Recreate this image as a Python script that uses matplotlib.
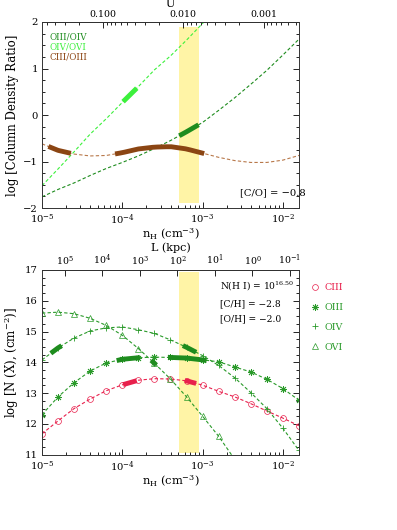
import numpy as np
import matplotlib
matplotlib.use('Agg')
import matplotlib.pyplot as plt
from matplotlib.lines import Line2D
from matplotlib.ticker import (FixedLocator, FormatStrFormatter, NullLocator,
                               NullFormatter, MultipleLocator, FuncFormatter)

plt.rcParams['font.family'] = 'DejaVu Serif'
plt.rcParams['mathtext.fontset'] = 'dejavuserif'

# ---- top panel: log column density ratios vs log n_H
ratio_lognh = [-5.0, -4.8, -4.6, -4.4, -4.2, -4.0, -3.8, -3.6, -3.4, -3.2,
               -3.0, -2.8, -2.6, -2.4, -2.2, -2.0, -1.8, -1.75]
oiii_oiv = [-1.76, -1.60, -1.46, -1.30, -1.15, -1.02, -0.88, -0.72, -0.55, -0.36,
            -0.16, 0.10, 0.37, 0.66, 0.96, 1.29, 1.63, 1.72]
ciii_oiii = [-0.62, -0.76, -0.84, -0.88, -0.87, -0.81, -0.73, -0.69, -0.68, -0.73,
             -0.82, -0.91, -0.98, -1.02, -1.02, -0.97, -0.87, -0.84]
oiv_ovi_lognh = [-5.0, -4.8, -4.6, -4.4, -4.2, -4.0, -3.8, -3.6, -3.4, -3.2, -3.0, -2.8]
oiv_ovi = [-1.52, -1.16, -0.79, -0.41, -0.08, 0.27, 0.61, 0.97, 1.27, 1.61, 1.97, 2.30]

# ranges (log n_H) where the curves are drawn thick
oiii_oiv_thick = [(-3.29, -3.05)]
oiv_ovi_thick = [(-3.99, -3.82)]
ciii_oiii_thick = [(-4.92, -4.64), (-4.09, -2.98)]

# ---- bottom panel: log N(X) vs log n_H
col_lognh = [-5.0, -4.8, -4.6, -4.4, -4.2, -4.0, -3.8, -3.6, -3.4, -3.2,
             -3.0, -2.8, -2.6, -2.4, -2.2, -2.0, -1.8]
n_ciii = [11.68, 12.10, 12.50, 12.81, 13.08, 13.27, 13.42, 13.47, 13.46, 13.40,
          13.26, 13.06, 12.88, 12.66, 12.42, 12.19, 11.94]
n_oiii = [12.30, 12.88, 13.34, 13.72, 13.98, 14.10, 14.15, 14.17, 14.16, 14.14,
          14.08, 14.02, 13.85, 13.69, 13.45, 13.15, 12.77]
n_oiv = [14.08, 14.47, 14.79, 15.02, 15.12, 15.15, 15.06, 14.94, 14.73, 14.49,
         14.22, 13.90, 13.50, 13.02, 12.50, 11.86, 11.14]
ovi_lognh = [-5.0, -4.8, -4.6, -4.4, -4.2, -4.0, -3.8, -3.6, -3.4, -3.2, -3.0, -2.8, -2.6]
n_ovi = [15.60, 15.63, 15.58, 15.43, 15.20, 14.88, 14.45, 13.97, 13.46, 12.88,
         12.25, 11.60, 10.85]

ciii_thick = [(-3.99, -3.82), (-3.22, -3.08)]
oiii_thick = [(-4.07, -3.78), (-3.43, -2.95)]
oiv_thick = [(-4.89, -4.755), (-3.245, -3.08)]
ovi_thick = [(-3.64, -3.577)]

band = (5.1e-4, 9.0e-4)
xlim = (1e-5, 1.6e-2)

green = '#2a9a2a'
dkgreen = '#1e8c1e'
ltgreen = '#3cf03c'
brown = '#8b4513'
red = '#e8204c'
band_color = '#fff4a6'


def thick(ax, lx, ly, ranges, color):
    for a, b in ranges:
        xs = np.linspace(a, b, 20)
        ax.plot(10**xs, np.interp(xs, lx, ly), color=color, lw=3.5,
                solid_capstyle='butt', zorder=4)


def nh_to_u(n):
    n = np.asarray(n, dtype=float)
    with np.errstate(divide='ignore', invalid='ignore'):
        return 10**-5.24 / n


def nh_to_l(n):
    n = np.asarray(n, dtype=float)
    with np.errstate(divide='ignore', invalid='ignore'):
        return 10**(5 - 2.141 * (np.log10(n) + 4.714))


def l_to_nh(l):
    l = np.asarray(l, dtype=float)
    with np.errstate(divide='ignore', invalid='ignore'):
        return 10**((5 - np.log10(l)) / 2.141 - 4.714)


def style(ax):
    ax.set_xscale('log')
    ax.set_xlim(*xlim)
    ax.tick_params(which='both', direction='in', right=True, top=False,
                   labelsize=7.2, width=0.6, pad=3)
    ax.tick_params(which='major', length=4)
    ax.tick_params(which='minor', length=2)
    for s in ax.spines.values():
        s.set_linewidth(0.7)
        s.set_color('#333333')
    ax.set_xlabel(r'n$_{\rm H}$ (cm$^{-3}$)', fontsize=8.2, labelpad=0)


fig = plt.figure(figsize=(3.97, 5.30), dpi=100)
ax1 = fig.add_axes([0.1058, 0.6075, 0.648, 0.351])
ax2 = fig.add_axes([0.1058, 0.1420, 0.648, 0.3486])

# ---------------- top panel
style(ax1)
ax1.set_ylim(-2, 2)
ax1.yaxis.set_major_locator(MultipleLocator(1))
ax1.yaxis.set_minor_locator(MultipleLocator(0.25))
ax1.axvspan(*band, ymin=0.025, ymax=0.975, color=band_color, lw=0, zorder=0)

xr = 10**np.array(ratio_lognh)
ax1.plot(xr, oiii_oiv, color=dkgreen, lw=0.8, ls=(0, (3, 2)))
ax1.plot(10**np.array(oiv_ovi_lognh), oiv_ovi, color=ltgreen, lw=0.8, ls=(0, (3, 2)))
ax1.plot(xr, ciii_oiii, color='#b8784a', lw=0.8, ls=(0, (3, 2)))
thick(ax1, ratio_lognh, oiii_oiv, oiii_oiv_thick, dkgreen)
thick(ax1, oiv_ovi_lognh, oiv_ovi, oiv_ovi_thick, ltgreen)
thick(ax1, ratio_lognh, ciii_oiii, ciii_oiii_thick, brown)

ax1.text(0.031, 0.918, 'OIII/OIV', color=dkgreen, fontsize=6.3,
         transform=ax1.transAxes, va='center')
ax1.text(0.031, 0.866, 'OIV/OVI', color=ltgreen, fontsize=6.3,
         transform=ax1.transAxes, va='center')
ax1.text(0.031, 0.814, 'CIII/OIII', color=brown, fontsize=6.3,
         transform=ax1.transAxes, va='center')
ax1.text(0.77, 0.082, '[C/O] = \u22120.8', fontsize=7.2, transform=ax1.transAxes,
         va='center')
ax1.set_ylabel('log [Column Density Ratio]', fontsize=8.5, labelpad=3)

sec1 = ax1.secondary_xaxis('top', functions=(nh_to_u, nh_to_u))
sec1.xaxis.set_major_locator(FixedLocator([0.1, 0.01, 0.001]))
sec1.xaxis.set_major_formatter(FormatStrFormatter('%.3f'))
sec1.xaxis.set_minor_formatter(NullFormatter())
sec1.tick_params(which='both', direction='in', labelsize=6.8, width=0.6, pad=2)
sec1.tick_params(which='major', length=4)
sec1.tick_params(which='minor', length=2)
sec1.spines['top'].set_linewidth(0.7)
ax1.text(0.5, 1.072, 'U', fontsize=8, transform=ax1.transAxes,
         ha='center', va='bottom')

# ---------------- bottom panel
style(ax2)
ax2.set_ylim(11, 17)
ax2.yaxis.set_major_locator(MultipleLocator(1))
ax2.yaxis.set_minor_locator(MultipleLocator(0.25))
ax2.axvspan(*band, ymin=0.012, ymax=0.988, color=band_color, lw=0, zorder=0)

xc = 10**np.array(col_lognh)
ax2.plot(xc, n_ciii, color=red, lw=0.8, ls=(0, (3, 2)), marker='o', ms=4.2,
         mfc='none', mew=0.5)
ax2.plot(xc, n_oiii, color=green, lw=0.8, ls=(0, (3, 2)), marker=(8, 2, 0),
         ms=5, mew=0.6)
ax2.plot(xc, n_oiv, color=green, lw=0.8, ls=(0, (3, 2)), marker='+', ms=5, mew=0.6)
ax2.plot(10**np.array(ovi_lognh), n_ovi, color=green, lw=0.8, ls=(0, (3, 2)),
         marker='^', ms=4.5, mfc='none', mew=0.5)
thick(ax2, col_lognh, n_ciii, ciii_thick, red)
thick(ax2, col_lognh, n_oiii, oiii_thick, dkgreen)
thick(ax2, col_lognh, n_oiv, oiv_thick, dkgreen)
thick(ax2, ovi_lognh, n_ovi, ovi_thick, dkgreen)

ax2.text(0.69, 0.909, r'N(H I) = 10$^{16.50}$', fontsize=6.6, transform=ax2.transAxes,
         va='center')
ax2.text(0.69, 0.819, '[C/H] = \u22122.8', fontsize=6.6, transform=ax2.transAxes,
         va='center')
ax2.text(0.69, 0.738, '[O/H] = \u22122.0', fontsize=6.6, transform=ax2.transAxes,
         va='center')
ax2.set_ylabel(r'log [N (X), (cm$^{-2}$)]', fontsize=8.5, labelpad=3)

handles = [
    Line2D([], [], ls='none', color=red, marker='o', ms=4.2, mfc='none', mew=0.5),
    Line2D([], [], ls='none', color=green, marker=(8, 2, 0), ms=5, mew=0.6),
    Line2D([], [], ls='none', color=green, marker='+', ms=5, mew=0.6),
    Line2D([], [], ls='none', color=green, marker='^', ms=4.5, mfc='none', mew=0.5),
]
ax2.legend(handles, ['CIII', 'OIII', 'OIV', 'OVI'], loc='upper left',
           bbox_to_anchor=(1.03, 0.95), frameon=False, fontsize=6.8,
           handlelength=0.8, handletextpad=0.7, labelspacing=1.15,
           borderaxespad=0, labelcolor=[red, green, green, green])

sec2 = ax2.secondary_xaxis('top', functions=(nh_to_l, l_to_nh))
sec2.xaxis.set_major_locator(FixedLocator([1e5, 1e4, 1e3, 1e2, 1e1, 1e0, 1e-1]))
sec2.xaxis.set_major_formatter(FuncFormatter(lambda v, p: r'$10^{%d}$' % round(np.log10(v))))
sec2.xaxis.set_minor_locator(NullLocator())
sec2.tick_params(which='both', direction='in', labelsize=6.8, width=0.6, length=4, pad=2)
sec2.spines['top'].set_linewidth(0.7)
sec2.set_xlabel('L (kpc)', fontsize=8, labelpad=1)

fig.savefig('out.png', dpi=100)
